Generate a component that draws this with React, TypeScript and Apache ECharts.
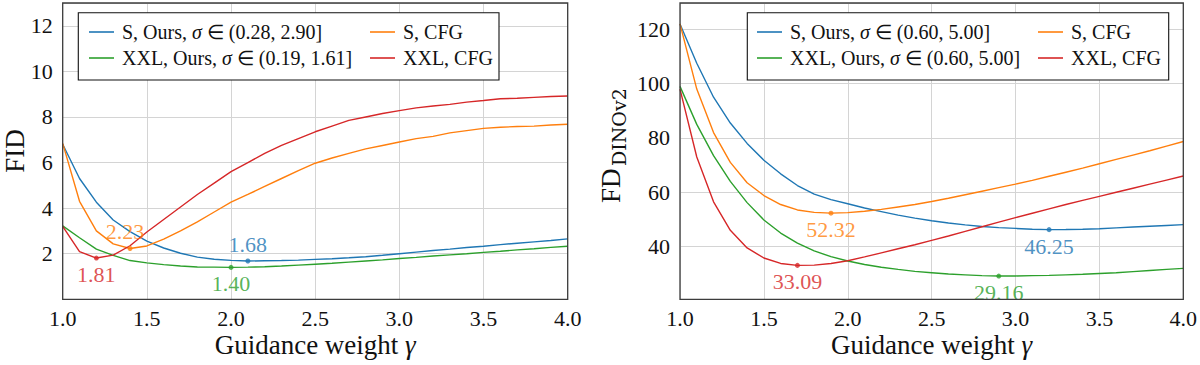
import React, { useEffect, useRef } from "react";
import * as echarts from "echarts";

// ---------------- data ----------------
const gammas = [
  1.0, 1.1, 1.2, 1.3, 1.4, 1.5, 1.6, 1.7, 1.8, 1.9, 2.0,
  2.1, 2.2, 2.3, 2.4, 2.5, 2.6, 2.7, 2.8, 2.9, 3.0,
  3.1, 3.2, 3.3, 3.4, 3.5, 3.6, 3.7, 3.8, 3.9, 4.0,
];

// Left panel: FID
const fidSOurs = [
  6.8, 5.3, 4.26, 3.48, 2.97, 2.55, 2.25, 2.02, 1.85, 1.76, 1.71,
  1.68, 1.69, 1.70, 1.72, 1.75, 1.78, 1.82, 1.87, 1.93, 2.0,
  2.07, 2.14, 2.2, 2.27, 2.33, 2.4, 2.46, 2.52, 2.58, 2.65,
];
const fidXXLOurs = [
  3.22, 2.7, 2.2, 1.93, 1.7, 1.6, 1.52, 1.46, 1.42, 1.41, 1.4,
  1.41, 1.43, 1.46, 1.5, 1.54, 1.58, 1.63, 1.68, 1.73, 1.79,
  1.84, 1.9, 1.95, 2.0, 2.06, 2.11, 2.17, 2.22, 2.28, 2.33,
];
const fidSCFG = [
  6.84, 4.3, 3.0, 2.43, 2.23, 2.34, 2.64, 3.0, 3.4, 3.83, 4.26,
  4.6, 4.95, 5.3, 5.65, 5.97, 6.2, 6.4, 6.6, 6.75, 6.9,
  7.05, 7.15, 7.3, 7.4, 7.5, 7.55, 7.58, 7.6, 7.65, 7.68,
];
const fidXXLCFG = [
  3.2, 2.09, 1.81, 1.94, 2.35, 2.95, 3.5, 4.05, 4.6, 5.1, 5.6,
  6.0, 6.4, 6.75, 7.05, 7.35, 7.6, 7.85, 8.0, 8.15, 8.28,
  8.4, 8.48, 8.55, 8.65, 8.72, 8.8, 8.82, 8.86, 8.9, 8.92,
];

// Right panel: FD_DINOv2
const fdSOurs = [
  122, 107.5, 95, 85.5, 78, 71.8, 66.8, 62.5, 59.3, 57.3, 55.8,
  54.2, 52.9, 51.6, 50.5, 49.5, 48.7, 48.0, 47.4, 47.0, 46.7,
  46.4, 46.25, 46.3, 46.4, 46.6, 46.9, 47.2, 47.5, 47.8, 48.1,
];
const fdXXLOurs = [
  99, 85, 73.5, 64, 56.2, 49.8, 45, 41.3, 38.4, 36.3, 34.7,
  33.4, 32.4, 31.6, 30.9, 30.4, 29.9, 29.6, 29.3, 29.16, 29.2,
  29.3, 29.4, 29.6, 29.8, 30.1, 30.4, 30.8, 31.2, 31.6, 32.0,
];
const fdSCFG = [
  122, 98, 82, 71, 63.5, 58.8, 55.5, 53.5, 52.6, 52.32, 52.5,
  53.0, 53.7, 54.6, 55.5, 56.6, 57.8, 59.1, 60.4, 61.7, 63.0,
  64.4, 65.9, 67.4, 68.9, 70.5, 72.1, 73.7, 75.3, 77.0, 78.7,
];
const fdXXLCFG = [
  98, 73, 56.5, 46, 39.5, 35.8, 33.8, 33.09, 33.2, 33.8, 34.8,
  36.2, 37.7, 39.2, 40.7, 42.3, 43.9, 45.6, 47.3, 49.0, 50.7,
  52.3, 53.9, 55.5, 57.0, 58.5, 60.0, 61.5, 63.0, 64.5, 66.0,
];

const xTicks = [1.0, 1.5, 2.0, 2.5, 3.0, 3.5, 4.0];
const fidTicks = [2, 4, 6, 8, 10, 12];
const fdTicks = [40, 60, 80, 100, 120];

const nameSOursL = "S, Ours, σ ∈ (0.28, 2.90]";
const nameXXLOursL = "XXL, Ours, σ ∈ (0.19, 1.61]";
const nameSOursR = "S, Ours, σ ∈ (0.60, 5.00]";
const nameXXLOursR = "XXL, Ours, σ ∈ (0.60, 5.00]";
const nameSCFG = "S, CFG";
const nameXXLCFG = "XXL, CFG";

// ---------------- style / layout ----------------
const FONT = "Liberation Serif";
const BLUE = "#1f77b4";
const ORANGE = "#ff7f0e";
const GREEN = "#2ca02c";
const RED = "#d62728";
const TEXT = "#111111";

const GL = { left: 62.7, top: 3, width: 505, height: 296.3 };
const GR = { left: 680, top: 3, width: 503.3, height: 296.3 };

function pairs(ys: number[]) {
  return gammas.map((g, i) => [g, ys[i]]);
}
function minPoint(ys: number[]) {
  let k = 0;
  ys.forEach((v, i) => {
    if (v < ys[k]) k = i;
  });
  return [gammas[k], ys[k]];
}

function lineSeries(name: string, ys: number[], color: string, gi: number) {
  return {
    type: "line",
    name,
    xAxisIndex: gi,
    yAxisIndex: gi,
    data: pairs(ys),
    showSymbol: false,
    symbol: "none",
    color,
    itemStyle: { color },
    lineStyle: { color, width: 1.4 },
    z: 2,
  };
}

function markSeries(
  ys: number[],
  color: string,
  gi: number,
  pos: string,
  offset: number[]
) {
  return {
    type: "scatter",
    xAxisIndex: gi,
    yAxisIndex: gi,
    data: [minPoint(ys)],
    symbolSize: 5,
    itemStyle: { color },
    z: 4,
    silent: true,
    label: {
      show: true,
      position: pos,
      distance: pos === "top" ? 3 : 3,
      offset,
      color,
      fontSize: 22,
      fontFamily: FONT,
      formatter: (p: any) => Number(p.value[1]).toFixed(2),
    },
  };
}

function legendOpt(data: string[], left: number) {
  return {
    data,
    left,
    top: 22,
    orient: "vertical",
    padding: 0,
    itemGap: 6,
    itemWidth: 25,
    itemHeight: 1.6,
    icon: "rect",
    z: 100,
    selectedMode: false,
    formatter: (n: string) => n.replace("σ", "{i|σ}"),
    textStyle: {
      fontFamily: FONT,
      fontSize: 20,
      lineHeight: 20,
      color: TEXT,
      padding: [0, 0, 0, 3],
      rich: {
        i: { fontFamily: FONT, fontSize: 20, fontStyle: "italic", color: TEXT, lineHeight: 20 },
      },
    },
  };
}

function xAxisOpt(gi: number) {
  return {
    type: "value",
    gridIndex: gi,
    min: 1,
    max: 4,
    interval: 0.5,
    name: "Guidance weight {i|γ}",
    nameLocation: "middle",
    nameGap: 32,
    nameMoveOverlap: false,
    nameTextStyle: {
      fontFamily: FONT,
      fontSize: 27,
      color: TEXT,
      rich: { i: { fontFamily: FONT, fontSize: 27, fontStyle: "italic", color: TEXT } },
    },
    axisLine: { show: false },
    axisTick: { show: false },
    axisLabel: {
      margin: 8,
      fontFamily: FONT,
      fontSize: 22,
      color: TEXT,
      formatter: (v: number) =>
        xTicks.some((t) => Math.abs(t - v) < 1e-6) ? v.toFixed(1) : "",
    },
    splitLine: { show: true, lineStyle: { color: "#d4d4d4", width: 1 } },
  };
}

function yAxisOpt(gi: number, min: number, max: number, ticks: number[], extra: any) {
  return {
    type: "value",
    gridIndex: gi,
    min,
    max,
    ...extra,
    axisLine: { show: false },
    axisTick: { show: false },
    axisLabel: {
      margin: 10,
      fontFamily: FONT,
      fontSize: 22,
      color: TEXT,
      formatter: (v: number) =>
        ticks.some((t) => Math.abs(t - v) < 1e-6) ? String(v) : "",
    },
    splitLine: { show: true, lineStyle: { color: "#d4d4d4", width: 1 } },
  };
}

function borderRect(g: any) {
  return {
    type: "rect",
    z: 50,
    silent: true,
    shape: { x: g.left, y: g.top, width: g.width, height: g.height },
    style: { fill: "none", stroke: "#3c3c3c", lineWidth: 1.3 },
  };
}

export default function App() {
  const ref = useRef<HTMLDivElement>(null);
  useEffect(() => {
    if (!ref.current) return;
    document.body.style.margin = "0";
    const chart = echarts.init(ref.current, undefined, { renderer: "svg" });
    const option: any = {
      animation: false,
      backgroundColor: "#ffffff",
      textStyle: { fontFamily: FONT },
      grid: [
        { ...GL, outerBoundsMode: "none", containLabel: false },
        { ...GR, outerBoundsMode: "none", containLabel: false },
      ],
      xAxis: [xAxisOpt(0), xAxisOpt(1)],
      yAxis: [
        yAxisOpt(0, 0, 13, fidTicks, { interval: 2 }),
        yAxisOpt(1, 20.6, 129.7, fdTicks, { splitNumber: 5 }),
      ],
      legend: [
        legendOpt([nameSOursL, nameXXLOursL], 89),
        legendOpt([nameSCFG, nameXXLCFG], 370),
        legendOpt([nameSOursR, nameXXLOursR], 757),
        legendOpt([nameSCFG, nameXXLCFG], 1038),
      ],
      tooltip: { show: false },
      series: [
        lineSeries(nameSOursL, fidSOurs, BLUE, 0),
        lineSeries(nameXXLOursL, fidXXLOurs, GREEN, 0),
        lineSeries(nameSCFG, fidSCFG, ORANGE, 0),
        lineSeries(nameXXLCFG, fidXXLCFG, RED, 0),
        markSeries(fidSOurs, BLUE, 0, "top", [0, 0]),
        markSeries(fidXXLOurs, GREEN, 0, "bottom", [0, 0]),
        markSeries(fidSCFG, ORANGE, 0, "top", [-5, 0]),
        markSeries(fidXXLCFG, RED, 0, "bottom", [0, 0]),
        lineSeries(nameSOursR, fdSOurs, BLUE, 1),
        lineSeries(nameXXLOursR, fdXXLOurs, GREEN, 1),
        lineSeries(nameSCFG, fdSCFG, ORANGE, 1),
        lineSeries(nameXXLCFG, fdXXLCFG, RED, 1),
        markSeries(fdSOurs, BLUE, 1, "bottom", [0, 0]),
        markSeries(fdXXLOurs, GREEN, 1, "bottom", [0, 0]),
        markSeries(fdSCFG, ORANGE, 1, "bottom", [0, 0]),
        markSeries(fdXXLCFG, RED, 1, "bottom", [0, 0]),
      ],
      graphic: [
        borderRect(GL),
        borderRect(GR),
        {
          type: "rect",
          z: 40,
          silent: true,
          shape: { x: 78.3, y: 12.7, width: 420.7, height: 67.3 },
          style: { fill: "#ffffff", stroke: "#111111", lineWidth: 1.1 },
        },
        {
          type: "rect",
          z: 40,
          silent: true,
          shape: { x: 747.3, y: 12.7, width: 421.4, height: 67.3 },
          style: { fill: "#ffffff", stroke: "#111111", lineWidth: 1.1 },
        },
        {
          type: "text",
          x: 15,
          y: 151,
          rotation: Math.PI / 2,
          silent: true,
          style: {
            text: "FID",
            fontFamily: FONT,
            fontSize: 27,
            fill: TEXT,
            align: "center",
            verticalAlign: "middle",
            textAlign: "center",
            textVerticalAlign: "middle",
          },
        },
        {
          type: "text",
          x: 611,
          y: 203,
          rotation: Math.PI / 2,
          silent: true,
          style: {
            text: "FD",
            fontFamily: FONT,
            fontSize: 27,
            fill: TEXT,
            align: "left",
            verticalAlign: "middle",
            textAlign: "left",
            textVerticalAlign: "middle",
          },
        },
        {
          type: "text",
          x: 619,
          y: 166,
          rotation: Math.PI / 2,
          silent: true,
          style: {
            text: "DINOv2",
            fontFamily: "DejaVu Serif",
            fontSize: 19,
            fill: TEXT,
            align: "left",
            verticalAlign: "middle",
            textAlign: "left",
            textVerticalAlign: "middle",
          },
        },
      ],
    };
    chart.setOption(option);
    return () => chart.dispose();
  }, []);
  return <div ref={ref} style={{ width: 1200, height: 365, background: "#fff" }} />;
}
